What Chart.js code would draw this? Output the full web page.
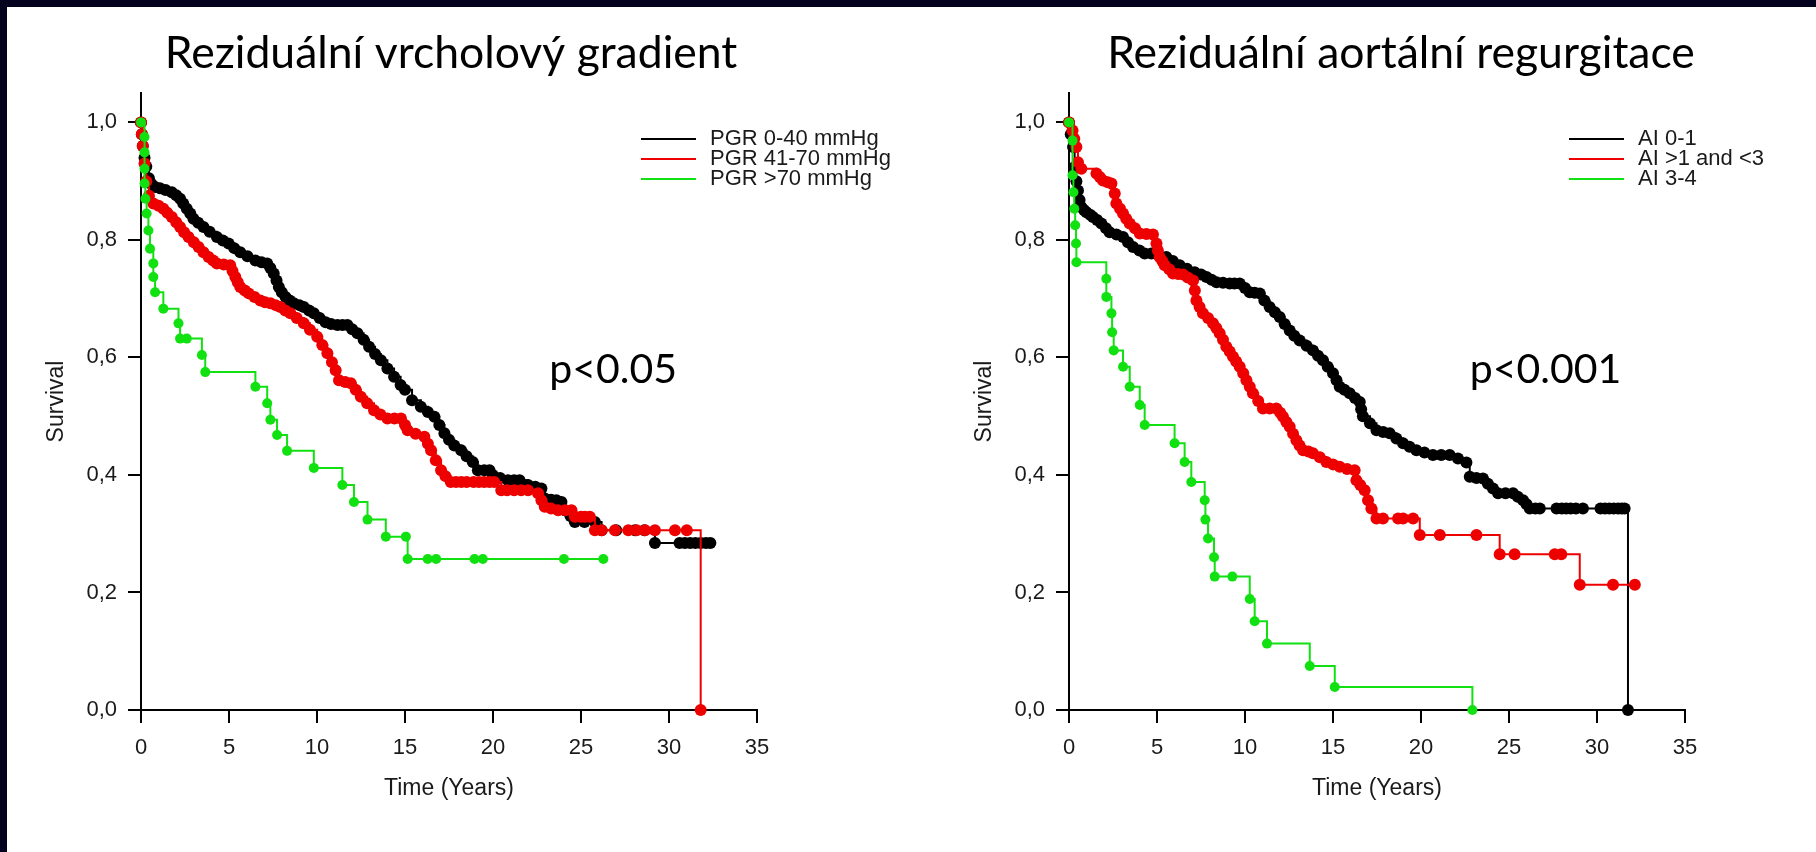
<!DOCTYPE html>
<html>
<head>
<meta charset="utf-8">
<title>Přežití po implantaci</title>
<script src="https://cdn.jsdelivr.net/npm/chart.js@4.4.1/dist/chart.umd.min.js"></script>
<style>
    html, body {
        margin: 0;
        width: 1816px;
        height: 852px;
        overflow: hidden;
        background: #03031f;
    }
    #sheet {
        position: absolute;
        left: 7px;
        top: 7px;
        right: 0;
        bottom: 0;
        background: #fff;
    }
    canvas {
        position: absolute;
        top: 0;
    }
    #gradChart { left: 0; }
    #regurgChart { left: 960px; }
</style>
</head>
<body>
<div id="sheet"></div>
<canvas id="gradChart" width="902" height="852"></canvas>
<canvas id="regurgChart" width="882" height="852"></canvas>

<script>
// Axis ticks
const xTicks = [0, 5, 10, 15, 20, 25, 30, 35];
const yTicks = [0, 0.2, 0.4, 0.6, 0.8, 1.0];

// Residual peak gradient groups (time in years, survival)
const gradLabels = ['PGR 0-40 mmHg', 'PGR 41-70 mmHg', 'PGR >70 mmHg'];
const gradLowT = [0, 0.05, 0.1, 0.2, 0.3, 0.45, 0.6, 0.8, 1.08, 1.4, 1.75, 2.0, 2.22, 2.4, 2.6, 2.8, 2.98, 3.25, 3.55, 3.9,
    4.31, 4.65, 4.98, 5.3, 5.64, 6.05, 6.5, 6.85, 7.17, 7.35, 7.54, 7.7, 7.83, 8.0, 8.21, 8.45, 8.68, 9.0, 9.25, 9.55,
    9.82, 10.15, 10.49, 10.8, 11.16, 11.45, 11.73, 12.0, 12.3, 12.65, 12.96, 13.3, 13.63, 14.0, 14.38, 14.75, 15.0, 15.4, 15.9, 16.3,
    16.67, 16.95, 17.24, 17.5, 17.8, 18.19, 18.5, 18.85, 19.14, 19.5, 19.8, 19.99, 20.4, 20.85, 21.2, 21.51, 21.99, 22.4, 22.75, 22.94,
    23.3, 23.6, 23.89, 24.08, 24.4, 24.65, 25.2, 25.79, 26.17, 27.0, 28.07, 28.6, 29.2, 30.6, 30.9, 31.2, 31.5, 31.8, 32.1, 32.35];
const gradLowS = [1.0, 0.98, 0.96, 0.94, 0.925, 0.905, 0.895, 0.89, 0.888, 0.885, 0.881, 0.876, 0.870, 0.862, 0.853, 0.845, 0.836, 0.829, 0.822, 0.814,
    0.805, 0.799, 0.794, 0.786, 0.779, 0.772, 0.765, 0.762, 0.760, 0.752, 0.743, 0.731, 0.72, 0.711, 0.703, 0.697, 0.692, 0.689, 0.686, 0.680,
    0.675, 0.667, 0.660, 0.657, 0.655, 0.655, 0.655, 0.648, 0.641, 0.630, 0.618, 0.606, 0.595, 0.581, 0.567, 0.553, 0.545, 0.527, 0.516, 0.507,
    0.499, 0.485, 0.471, 0.46, 0.45, 0.442, 0.432, 0.422, 0.408, 0.408, 0.408, 0.40, 0.395, 0.391, 0.391, 0.391, 0.383, 0.380, 0.377, 0.360,
    0.358, 0.357, 0.354, 0.340, 0.330, 0.320, 0.320, 0.320, 0.306, 0.306, 0.306, 0.306, 0.284, 0.284, 0.284, 0.284, 0.284, 0.284, 0.284, 0.284];
const gradMidT = [0, 0.05, 0.1, 0.2, 0.3, 0.45, 0.7, 1.0, 1.27, 1.5, 1.75, 2.0, 2.22, 2.45, 2.7, 3.0, 3.27, 3.55, 3.84, 4.1,
    4.31, 4.7, 5.07, 5.2, 5.36, 5.5, 5.64, 5.9, 6.12, 6.45, 6.78, 7.05, 7.35, 7.65, 7.92, 8.2, 8.49, 8.85, 9.25, 9.6,
    10.01, 10.3, 10.59, 10.85, 11.06, 11.25, 11.6, 11.92, 12.2, 12.49, 12.85, 13.24, 13.6, 14.0, 14.4, 14.77, 15.0, 15.15, 15.6, 16.1,
    16.3, 16.48, 16.75, 17.05, 17.3, 17.6, 17.9, 18.2, 18.5, 18.9, 19.2, 19.5, 19.8, 20.07, 20.47, 20.8, 21.2, 21.6, 21.99, 22.56,
    22.75, 22.94, 23.3, 23.7, 24.1, 24.46, 24.65, 25.0, 25.22, 25.5, 25.79, 26.17, 26.93, 27.69, 28.16, 28.64, 29.2, 30.34, 31.01, 31.8];
const gradMidS = [1.0, 0.98, 0.96, 0.93, 0.90, 0.875, 0.862, 0.858, 0.853, 0.846, 0.839, 0.830, 0.822, 0.813, 0.805, 0.796, 0.788, 0.779, 0.771, 0.765,
    0.760, 0.758, 0.757, 0.747, 0.737, 0.728, 0.72, 0.714, 0.709, 0.703, 0.697, 0.694, 0.692, 0.689, 0.686, 0.68, 0.675, 0.667, 0.658, 0.647,
    0.635, 0.621, 0.607, 0.592, 0.578, 0.561, 0.558, 0.556, 0.545, 0.533, 0.522, 0.510, 0.503, 0.496, 0.496, 0.496, 0.485, 0.476, 0.470, 0.465,
    0.453, 0.442, 0.425, 0.408, 0.398, 0.388, 0.388, 0.388, 0.388, 0.388, 0.388, 0.388, 0.388, 0.388, 0.374, 0.374, 0.374, 0.374, 0.374, 0.369,
    0.357, 0.346, 0.343, 0.340, 0.340, 0.340, 0.329, 0.329, 0.329, 0.329, 0.306, 0.306, 0.306, 0.306, 0.306, 0.306, 0.306, 0.306, 0.306, 0];
const gradHighT = [0, 0.2, 0.2, 0.2, 0.2, 0.25, 0.32, 0.42, 0.51, 0.7, 0.7, 0.8, 1.27, 2.13, 2.22, 2.6, 3.46, 3.65, 6.5, 7.17,
    7.35, 7.73, 8.3, 9.82, 11.44, 12.1, 12.87, 13.91, 15.05, 15.15, 16.29, 16.77, 18.95, 19.42, 24.03, 26.27];
const gradHighS = [1.0, 0.975, 0.949, 0.921, 0.896, 0.870, 0.845, 0.816, 0.785, 0.760, 0.737, 0.711, 0.683, 0.658, 0.632, 0.632, 0.604, 0.575, 0.55, 0.522,
    0.494, 0.468, 0.441, 0.412, 0.383, 0.354, 0.324, 0.295, 0.295, 0.257, 0.257, 0.257, 0.257, 0.257, 0.257, 0.257];

// Residual aortic regurgitation groups
const regurgLabels = ['AI 0-1', 'AI >1 and <3', 'AI 3-4'];
const regurgLowT = [0, 0.1, 0.23, 0.32, 0.42, 0.51, 0.6, 0.7, 0.85, 0.99, 1.2, 1.36, 1.6, 1.84, 2.1, 2.31, 2.7, 3.07, 3.35, 3.64,
    4.0, 4.3, 4.68, 5.1, 5.53, 5.9, 6.29, 6.7, 7.14, 7.5, 7.81, 8.1, 8.38, 8.75, 9.13, 9.4, 9.7, 10.0, 10.27, 10.55,
    10.84, 11.1, 11.4, 11.7, 11.97, 12.25, 12.54, 12.8, 13.11, 13.5, 13.86, 14.15, 14.43, 14.7, 15.0, 15.2, 15.38, 15.65, 15.95, 16.25,
    16.52, 16.6, 16.7, 17.1, 17.47, 17.85, 18.22, 18.6, 18.98, 19.35, 19.74, 20.2, 20.68, 21.15, 21.63, 22.1, 22.58, 22.77, 23.15, 23.52,
    23.8, 24.09, 24.38, 24.8, 25.23, 25.5, 25.8, 26.0, 26.18, 26.5, 26.75, 27.7, 28.0, 28.25, 28.5, 28.8, 29.2, 30.2, 30.45, 30.7,
    30.95, 31.2, 31.4, 31.57, 31.76];
const regurgLowS = [1.0, 0.98, 0.958, 0.924, 0.90, 0.884, 0.868, 0.856, 0.851, 0.847, 0.843, 0.839, 0.834, 0.828, 0.82, 0.813, 0.809, 0.805, 0.796, 0.788,
    0.782, 0.777, 0.777, 0.774, 0.771, 0.764, 0.757, 0.751, 0.745, 0.741, 0.737, 0.732, 0.728, 0.727, 0.726, 0.726, 0.726, 0.718, 0.711, 0.710,
    0.709, 0.697, 0.686, 0.677, 0.669, 0.657, 0.646, 0.637, 0.629, 0.620, 0.612, 0.603, 0.595, 0.584, 0.573, 0.561, 0.550, 0.545, 0.539, 0.531,
    0.524, 0.512, 0.50, 0.488, 0.476, 0.473, 0.471, 0.462, 0.454, 0.448, 0.442, 0.438, 0.434, 0.434, 0.434, 0.428, 0.421, 0.397, 0.395, 0.394,
    0.385, 0.377, 0.369, 0.369, 0.369, 0.363, 0.357, 0.35, 0.343, 0.343, 0.343, 0.343, 0.343, 0.343, 0.343, 0.343, 0.343, 0.343, 0.343, 0.343,
    0.343, 0.343, 0.343, 0.343, 0];
const regurgMidT = [0, 0.2, 0.3, 0.42, 0.51, 0.7, 1.56, 1.75, 1.93, 2.2, 2.41, 2.6, 2.69, 2.9, 3.07, 3.25, 3.45, 3.75, 4.02, 4.4,
    4.77, 4.97, 5.05, 5.15, 5.3, 5.44, 5.7, 5.91, 6.2, 6.48, 6.75, 7.05, 7.15, 7.24, 7.42, 7.61, 7.9, 8.18, 8.37, 8.56,
    8.75, 8.94, 9.13, 9.32, 9.5, 9.7, 9.9, 10.08, 10.27, 10.45, 10.75, 11.02, 11.4, 11.78, 12.0, 12.16, 12.35, 12.54, 12.73, 12.92,
    13.1, 13.3, 13.6, 13.86, 14.25, 14.62, 15.0, 15.38, 15.8, 16.23, 16.33, 16.55, 16.8, 16.99, 17.18, 17.47, 17.84, 18.7, 18.98, 19.55,
    19.93, 21.07, 23.15, 24.47, 25.32, 27.6, 27.97, 29.02, 30.91, 32.15];
const regurgMidS = [1.0, 0.986, 0.972, 0.958, 0.932, 0.921, 0.913, 0.907, 0.901, 0.898, 0.896, 0.879, 0.862, 0.853, 0.845, 0.836, 0.828, 0.82, 0.811, 0.81,
    0.809, 0.794, 0.782, 0.771, 0.764, 0.757, 0.75, 0.743, 0.742, 0.741, 0.736, 0.731, 0.714, 0.697, 0.686, 0.675, 0.667, 0.658, 0.65, 0.641,
    0.63, 0.618, 0.61, 0.601, 0.593, 0.584, 0.573, 0.561, 0.55, 0.539, 0.526, 0.513, 0.513, 0.513, 0.506, 0.499, 0.49, 0.482, 0.47, 0.459,
    0.45, 0.442, 0.44, 0.437, 0.43, 0.422, 0.418, 0.414, 0.41, 0.408, 0.391, 0.383, 0.374, 0.357, 0.343, 0.326, 0.326, 0.326, 0.326, 0.326,
    0.298, 0.298, 0.298, 0.265, 0.265, 0.265, 0.265, 0.213, 0.213, 0.213];
const regurgHighT = [0, 0.2, 0.2, 0.25, 0.3, 0.35, 0.4, 0.42, 2.12, 2.12, 2.41, 2.45, 2.54, 3.07, 3.45, 4.02, 4.3, 6.0, 6.57, 6.95,
    7.71, 7.75, 7.9, 8.24, 8.28, 9.28, 10.27, 10.55, 11.25, 13.68, 15.1, 22.92];
const regurgHighS = [1.0, 0.969, 0.910, 0.881, 0.853, 0.825, 0.794, 0.762, 0.734, 0.703, 0.675, 0.643, 0.612, 0.584, 0.550, 0.519, 0.485, 0.454, 0.422, 0.388,
    0.357, 0.324, 0.292, 0.260, 0.227, 0.227, 0.189, 0.151, 0.113, 0.075, 0.039, 0];

const groupColors = ['#000000', '#ee0000', '#11e011'];
const dotSizes = [6, 6, 5];

function toPoints(t, s) {
    return t.map((x, i) => ({ x: x, y: s[i] }));
}

function makeSeries(labels, series) {
    return series.map((pair, i) => ({
        label: labels[i],
        data: toPoints(pair[0], pair[1]),
        borderColor: groupColors[i],
        backgroundColor: groupColors[i],
        pointBackgroundColor: groupColors[i],
        pointBorderWidth: 0,
        pointRadius: dotSizes[i],
        borderWidth: 2,
        stepped: 'before',
        fill: false,
        clip: false,
        order: series.length - i
    }));
}

// Heading, legend block and p-value
const kmNotes = {
    id: 'kmNotes',
    afterDatasetsDraw(chart, args, opts) {
        const { ctx, chartArea, scales } = chart;
        ctx.save();
        ctx.textAlign = 'center';
        ctx.textBaseline = 'middle';
        ctx.fillStyle = '#000';
        ctx.font = '44.5px Lato, "Open Sans", sans-serif';
        ctx.fillText(opts.title, chartArea.left + opts.titleX, 54);

        ctx.font = '22px "Liberation Sans", Arial, sans-serif';
        ctx.textAlign = 'left';
        chart.data.datasets.forEach((ds, i) => {
            const y = chartArea.top + 46 + i * 20;
            const x0 = chartArea.right - 116;
            ctx.strokeStyle = ds.borderColor;
            ctx.lineWidth = 2;
            ctx.beginPath();
            ctx.moveTo(x0, y);
            ctx.lineTo(x0 + 55, y);
            ctx.stroke();
            ctx.fillStyle = '#1a1a1a';
            ctx.fillText(ds.label, x0 + 69, y);
        });

        ctx.font = '41px Lato, "Open Sans", sans-serif';
        ctx.textBaseline = 'alphabetic';
        ctx.fillStyle = '#000';
        ctx.fillText(opts.pText, scales.x.getPixelForValue(opts.pAt[0]), scales.y.getPixelForValue(opts.pAt[1]));
        ctx.restore();
    }
};

const axisFont = { family: '"Liberation Sans", Arial, sans-serif', size: 22 };

function makeChart(id, datasets, yWidth, padRight, yTitlePad, notes) {
    return new Chart(document.getElementById(id), {
        type: 'line',
        data: { datasets: datasets },
        plugins: [kmNotes],
        options: {
            responsive: false,
            animation: false,
            events: [],
            layout: { padding: { left: 0, right: padRight, top: 93, bottom: 0 } },
            plugins: {
                legend: { display: false },
                tooltip: { enabled: false },
                kmNotes: notes
            },
            scales: {
                x: {
                    type: 'linear',
                    min: 0,
                    max: 35,
                    afterBuildTicks: scale => { scale.ticks = xTicks.map(v => ({ value: v })); },
                    afterFit: scale => { scale.height = 142; },
                    grid: { drawOnChartArea: false, tickLength: 13, color: '#000', lineWidth: 2 },
                    border: { display: true, color: '#000', width: 2 },
                    ticks: { color: '#1a1a1a', font: axisFont, padding: 12, maxRotation: 0, callback: v => String(v) },
                    title: {
                        display: true,
                        text: 'Time (Years)',
                        color: '#1a1a1a',
                        font: { family: axisFont.family, size: 23 },
                        padding: { top: 0, bottom: 50 }
                    }
                },
                y: {
                    type: 'linear',
                    min: 0,
                    max: 1.05,
                    afterBuildTicks: scale => { scale.ticks = yTicks.map(v => ({ value: v })); },
                    afterFit: scale => { scale.width = yWidth; },
                    grid: { drawOnChartArea: false, tickLength: 13, color: '#000', lineWidth: 2 },
                    border: { display: true, color: '#000', width: 2 },
                    ticks: { color: '#1a1a1a', font: axisFont, padding: 11, callback: v => v.toFixed(1).replace('.', ',') },
                    title: {
                        display: true,
                        text: 'Survival',
                        color: '#1a1a1a',
                        font: { family: axisFont.family, size: 23 },
                        padding: { top: yTitlePad, bottom: 0 }
                    }
                }
            }
        }
    });
}

document.addEventListener('DOMContentLoaded', function() {
    makeChart('gradChart',
        makeSeries(gradLabels, [[gradLowT, gradLowS], [gradMidT, gradMidS], [gradHighT, gradHighS]]),
        141, 145, 43,
        { title: 'Reziduální vrcholový gradient', titleX: 310, pText: 'p<0.05', pAt: [23.2, 0.557] });

    makeChart('regurgChart',
        makeSeries(regurgLabels, [[regurgLowT, regurgLowS], [regurgMidT, regurgMidS], [regurgHighT, regurgHighS]]),
        109, 157, 11,
        { title: 'Reziduální aortální regurgitace', titleX: 332, pText: 'p<0.001', pAt: [22.77, 0.557] });
});
</script>
</body>
</html>
